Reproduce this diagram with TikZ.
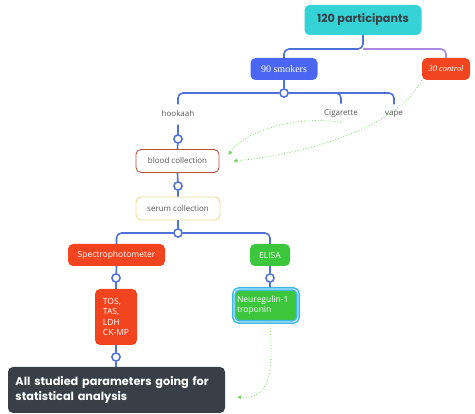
\documentclass[tikz,border=0pt]{standalone}
\usepackage{fontspec}
\setmainfont{Open Sans}
\newfontfamily\popp{Poppins}
\newfontfamily\serf{Liberation Serif}
\usetikzlibrary{arrows.meta}
\definecolor{cteal}{HTML}{35D3D6}
\definecolor{cblue}{HTML}{4A66F2}
\definecolor{cred}{HTML}{F2451F}
\definecolor{cgreen}{HTML}{3CC63C}
\definecolor{cdark}{HTML}{383F46}
\definecolor{cline}{HTML}{4F72DA}
\definecolor{cpurp}{HTML}{A98BE3}
\definecolor{cbrown}{HTML}{B8553F}
\definecolor{cyell}{HTML}{EADF8E}
\definecolor{ctext}{HTML}{555555}
\definecolor{carrow}{HTML}{7CD66A}
\definecolor{ccyan}{HTML}{3FB8E8}
\begin{document}
\begin{tikzpicture}[x=1pt,y=-1pt,
  box/.style={rounded corners=5pt, inner sep=0pt, align=center},
  conn/.style={draw=cline, line width=1.6pt, rounded corners=5pt},
  knob/.style={circle, draw=cline, fill=white, line width=1.4pt, minimum size=8pt, inner sep=0pt},
  lbl/.style={font=\fontsize{8}{10}\selectfont, text=ctext},
  garrow/.style={draw=carrow, line width=0.8pt, dotted, -{Triangle[length=4pt,width=4pt]}},
]
\useasboundingbox (0,0) rectangle (475,414);
\fill[white] (0,0) rectangle (475,414);

% nodes
\node[box, fill=cteal, minimum width=117pt, minimum height=30pt, font=\popp\bfseries\fontsize{11.2}{13}\selectfont, text=cdark] (root) at (363,20) {120 participants};
\node[box, fill=cblue, minimum width=67pt, minimum height=22pt, font=\serf\fontsize{10}{12}\selectfont, text=white] (smk) at (284,69) {90 smokers};
\node[box, fill=cred, minimum width=48pt, minimum height=22pt, font=\serf\itshape\fontsize{8.5}{10}\selectfont, text=white] (ctl) at (446,69) {30 control};

\node[lbl] (hook) at (178,114) {hookaah};
\node[lbl] (cig) at (341,114) {Cigarette};
\node[lbl] (vape) at (394,114) {vape};

\node[box, draw=cbrown, line width=0.9pt, fill=white, minimum width=83pt, minimum height=23pt, lbl] (blood) at (177.5,161) {blood collection};
\node[box, draw=cyell, line width=0.9pt, fill=white, minimum width=84pt, minimum height=23pt, lbl] (serum) at (178,208.5) {serum collection};

\node[box, fill=cred, minimum width=97pt, minimum height=22pt, text=white, font=\fontsize{8.5}{10}\selectfont] (spec) at (116.5,255) {Spectrophotometer};
\node[box, fill=cgreen, minimum width=40pt, minimum height=22pt, text=white, font=\fontsize{8.5}{10}\selectfont] (elisa) at (270,255) {ELISA};

\node[box, fill=cred, minimum width=42pt, minimum height=56pt, text=white, align=left, font=\fontsize{8.5}{10.5}\selectfont] (tos) at (116,317) {TOS,\\TAS,\\LDH\\CK-MP};
\node[box, fill=cgreen, draw=ccyan, line width=1.6pt, double=white, double distance=0.8pt, minimum width=64pt, minimum height=33pt, text=white, align=left, font=\fontsize{8.5}{10.5}\selectfont, text width=58pt] (neur) at (266,305.5) {Neuregulin-1\\troponin};

\node[box, fill=cdark, minimum width=217pt, minimum height=46pt, text=white, align=left, font=\popp\bfseries\fontsize{11.3}{14.5}\selectfont, text width=202pt] (final) at (116.5,390) {All studied parameters going for\\statistical analysis};

% junction coordinates
\coordinate (j0) at (363,49);
\node[knob] (k1) at (284,93) {};
\node[knob] (k2) at (178,139) {};
\node[knob] (k3) at (178,186) {};
\node[knob] (k4) at (178,233) {};
\node[knob] (k5) at (116,278) {};
\node[knob] (k6) at (270,278) {};
\node[knob] (k7) at (116,357) {};

% connectors
\draw[conn] (root.south) -- (j0) -| (smk.north);
\draw[draw=cpurp, line width=1.6pt, rounded corners=5pt] (j0) -| (ctl.north);
\draw[conn] (smk.south) -- (k1);
\draw[conn] (k1) -| ([yshift=3pt]hook.north);
\draw[conn] (k1) -| ([yshift=3pt]cig.north);
\draw[conn] (k1) -| ([yshift=3pt]vape.north);
\draw[conn] ([yshift=-4pt]hook.south) -- (k2) -- (blood.north);
\draw[conn] (blood.south) -- (k3) -- (serum.north);
\draw[conn] (serum.south) -- (k4);
\draw[conn] (k4) -| (spec.north);
\draw[conn] (k4) -| (elisa.north);
\draw[conn] (spec.south) -- (k5) -- (tos.north);
\draw[conn] (elisa.south) -- (k6) -- ([yshift=1pt]neur.north -| k6);
\draw[conn] (tos.south) -- (k7) -- (final.north -| k7);
% redraw knobs on top
\foreach \k in {k1,k2,k3,k4,k5,k6,k7} \node[knob] at (\k) {};

% green arrows
\draw[garrow] (ctl.south west) .. controls (395,130) and (300,155) .. ([xshift=14pt]blood.east);
\draw[garrow] ([yshift=-1pt]cig.south) .. controls (300,115) and (245,130) .. ([xshift=9pt,yshift=6pt]blood.east);
\draw[garrow] ([xshift=4pt]neur.south) .. controls (272,360) and (275,400) .. ([xshift=12pt,yshift=-7pt]final.east);
\end{tikzpicture}
\end{document}
